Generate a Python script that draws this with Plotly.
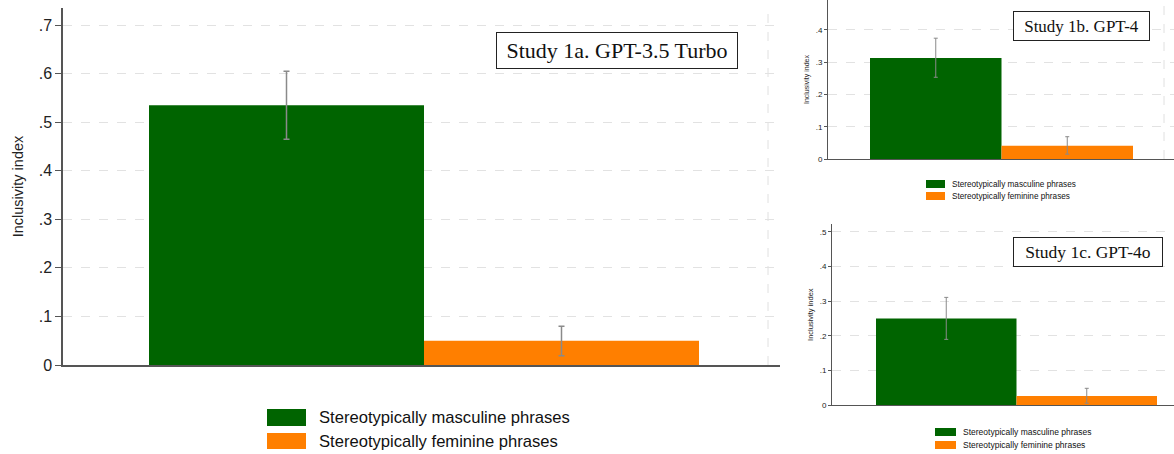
import plotly.graph_objects as go

W, H = 1174, 454

# ---------------- data ----------------
studies = ["Study 1a. GPT-3.5 Turbo", "Study 1b. GPT-4", "Study 1c. GPT-4o"]
series_names = ["Stereotypically masculine phrases", "Stereotypically feminine phrases"]
masc_mean = [0.535, 0.313, 0.250]
masc_lo = [0.465, 0.253, 0.190]
masc_hi = [0.605, 0.374, 0.311]
fem_mean = [0.050, 0.041, 0.027]
fem_lo = [0.019, 0.015, 0.006]
fem_hi = [0.080, 0.069, 0.049]
y_tickvals = [0, 0.1, 0.2, 0.3, 0.4, 0.5, 0.6, 0.7]
y_ticktext = ["0", ".1", ".2", ".3", ".4", ".5", ".6", ".7"]
y_title = "Inclusivity index"
colors = ["#006400", "#FF7F00"]

# ---------------- layout geometry (pixels) ----------------
def fx(px):
    return px / W

def fy(py):
    return 1 - py / H

panels = [
    dict(x0=63, x1=780, ybot=365, ytop=8, ppu=485.7, bar_left=149, unit=275,
         tick=16, title=14.5, ticklen=6, cap=3, thick=1.5, standoff=12,
         box=(496, 738, 32, 69), boxfont=22,
         leg=(267, 306, 409, 426, 433, 449, 317), legfont=16.6,
         vline=768),
    dict(x0=828, x1=1174, ybot=159, ytop=0, ppu=323, bar_left=870, unit=131.5,
         tick=8, title=7, ticklen=3, cap=2, thick=1, standoff=5,
         box=(1013, 1150, 11, 41), boxfont=17,
         leg=(926, 945, 180, 188, 192, 200, 950), legfont=8.2,
         vline=1164),
    dict(x0=832, x1=1174, ybot=405.3, ytop=224, ppu=347, bar_left=876, unit=140.5,
         tick=8, title=7.5, ticklen=3, cap=2, thick=1, standoff=5,
         box=(1013, 1163, 237, 267), boxfont=17.5,
         leg=(935, 956, 428, 436, 441, 449, 961), legfont=8.5,
         vline=None),
]

fig = go.Figure()
shapes = []
annotations = []

for i, p in enumerate(panels):
    sfx = "" if i == 0 else str(i + 1)
    xa, ya = "x" + sfx, "y" + sfx
    means = [masc_mean[i], fem_mean[i]]
    los = [masc_lo[i], fem_lo[i]]
    his = [masc_hi[i], fem_hi[i]]
    for j in range(2):
        fig.add_trace(go.Bar(
            x=[j], y=[means[j]], width=1,
            name=series_names[j], showlegend=False,
            marker=dict(color=colors[j], line=dict(width=0)),
            error_y=dict(type="data", symmetric=False,
                         array=[his[j] - means[j]],
                         arrayminus=[means[j] - los[j]],
                         color="#8a8a8a", thickness=p["thick"], width=p["cap"]),
            xaxis=xa, yaxis=ya,
        ))
    xstart = -0.5 - (p["bar_left"] - p["x0"]) / p["unit"]
    xend = xstart + (p["x1"] - p["x0"]) / p["unit"]
    ytopv = (p["ybot"] - p["ytop"]) / p["ppu"]
    tv = [v for v in y_tickvals if v <= ytopv + 1e-9]
    tt = y_ticktext[:len(tv)]
    fig.layout["xaxis" + sfx] = dict(
        domain=[fx(p["x0"]), fx(p["x1"])], range=[xstart, xend], anchor=ya,
        showticklabels=False, ticks="", showgrid=False, zeroline=False,
        showline=True, linecolor="#555555", linewidth=1.5 if i == 0 else 1,
    )
    fig.layout["yaxis" + sfx] = dict(
        domain=[fy(p["ybot"]), fy(p["ytop"])], range=[0, ytopv], anchor=xa,
        tickvals=tv, ticktext=tt, ticks="outside", ticklen=p["ticklen"],
        tickcolor="#555555", tickwidth=1.2 if i == 0 else 1,
        tickfont=dict(size=p["tick"], color="#222222", family="Liberation Sans"),
        showline=True, linecolor="#555555", linewidth=1.5 if i == 0 else 1,
        showgrid=True, gridcolor="#e2e2e2", griddash="dash", gridwidth=1,
        zeroline=False,
        title=dict(text=y_title, standoff=p["standoff"],
                   font=dict(size=p["title"], color="#222222", family="Liberation Sans")),
    )
    # study label box
    bx0, bx1, by0, by1 = p["box"]
    annotations.append(dict(
        text=studies[i], xref="paper", yref="paper",
        x=fx((bx0 + bx1) / 2), y=fy((by0 + by1) / 2),
        xanchor="center", yanchor="middle", showarrow=False,
        width=bx1 - bx0 - 2, height=by1 - by0 - 2, borderpad=0,
        bordercolor="#222222", borderwidth=1, bgcolor="white",
        font=dict(family="Liberation Serif", size=p["boxfont"], color="#111111"),
    ))
    # legend (swatches + labels)
    lx0, lx1, g0, g1, o0, o1, tx = p["leg"]
    for (r0, r1), col, name in zip([(g0, g1), (o0, o1)], colors, series_names):
        shapes.append(dict(type="rect", xref="paper", yref="paper",
                           x0=fx(lx0), x1=fx(lx1), y0=fy(r1), y1=fy(r0),
                           fillcolor=col, line=dict(width=0)))
        annotations.append(dict(
            text=name, xref="paper", yref="paper", x=fx(tx), y=fy((r0 + r1) / 2),
            xanchor="left", yanchor="middle", showarrow=False,
            font=dict(family="Liberation Sans", size=p["legfont"], color="#111111"),
        ))
    if p["vline"] is not None:
        shapes.append(dict(type="line", xref="paper", yref="paper",
                           x0=fx(p["vline"]), x1=fx(p["vline"]),
                           y0=fy(p["ybot"]), y1=fy(p["ytop"]),
                           line=dict(color="#e0e0e0", width=1, dash="dash"),
                           layer="below"))

fig.update_layout(
    width=W, height=H, autosize=False,
    margin=dict(l=0, r=0, t=0, b=0),
    template="none",
    plot_bgcolor="white", paper_bgcolor="white",
    barmode="overlay", showlegend=False,
    font=dict(family="Liberation Sans", color="#222222"),
    shapes=shapes, annotations=annotations,
)

fig.write_html(
    "out.html",
    config={"displayModeBar": False},
    post_script="document.body.style.margin='0px';document.body.style.overflow='hidden';",
)
